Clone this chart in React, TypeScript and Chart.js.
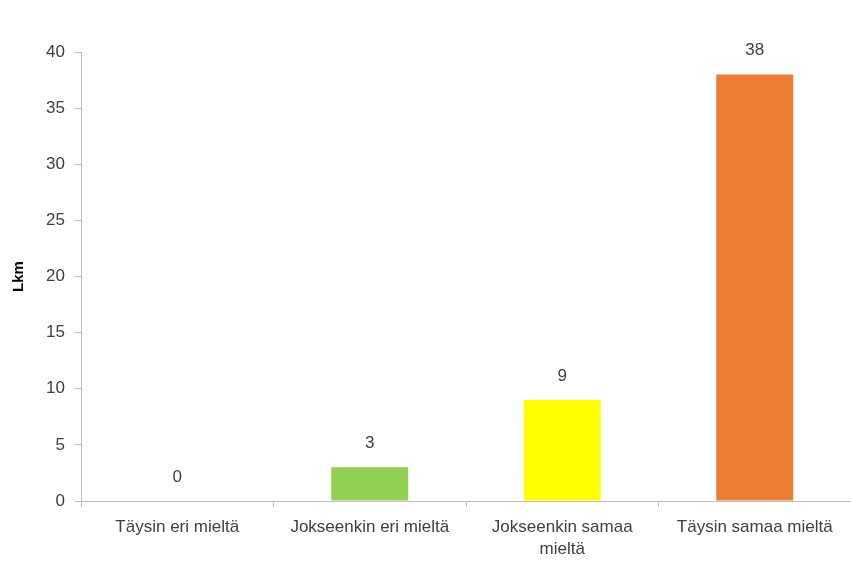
import React, { useEffect, useRef } from "react";
import { Chart, registerables } from "chart.js";

Chart.register(...registerables);

const categories: (string | string[])[] = [
  "Täysin eri mieltä",
  "Jokseenkin eri mieltä",
  ["Jokseenkin samaa", "mieltä"],
  "Täysin samaa mieltä",
];
const values = [0, 3, 9, 38];
const barColors = ["#a5a5a5", "#92d050", "#ffff00", "#ed7d31"];
const yTicks = [0, 5, 10, 15, 20, 25, 30, 35, 40];
const yTitle = "Lkm";

const FONT = "'Liberation Sans', Arial, sans-serif";

const valueLabels = {
  id: "valueLabels",
  afterDatasetsDraw(chart: any) {
    const ctx = chart.ctx;
    const meta = chart.getDatasetMeta(0);
    ctx.save();
    ctx.font = `17px ${FONT}`;
    ctx.fillStyle = "#404040";
    ctx.textAlign = "center";
    ctx.textBaseline = "middle";
    meta.data.forEach((bar: any, i: number) => {
      ctx.fillText(String(values[i]), bar.x, bar.y - 24);
    });
    ctx.restore();
  },
};

export default function App() {
  const ref = useRef<HTMLCanvasElement>(null);
  useEffect(() => {
    document.body.style.margin = "0";
    const chart = new Chart(ref.current!, {
      type: "bar",
      data: {
        labels: categories,
        datasets: [
          {
            data: values,
            backgroundColor: barColors,
            borderWidth: 0,
            barPercentage: 0.4,
            categoryPercentage: 1,
          },
        ],
      },
      options: {
        animation: false,
        responsive: false,
        layout: { padding: { top: 52, right: 0, left: 0, bottom: 0 } },
        plugins: { legend: { display: false }, tooltip: { enabled: false } },
        scales: {
          x: {
            offset: true,
            grid: {
              offset: true,
              drawOnChartArea: false,
              tickLength: 6,
              color: "#bfbfbf",
            },
            border: { color: "#bfbfbf", width: 1 },
            ticks: {
              color: "#404040",
              font: { family: FONT, size: 17, lineHeight: 1.25 },
              padding: 10,
              maxRotation: 0,
              autoSkip: false,
            },
            afterFit: (s: any) => {
              s.height = 63;
            },
          },
          y: {
            min: 0,
            max: 40,
            afterBuildTicks: (s: any) => {
              s.ticks = yTicks.map((v) => ({ value: v }));
            },
            grid: {
              drawOnChartArea: false,
              tickLength: 6,
              color: "#bfbfbf",
            },
            border: { color: "#bfbfbf", width: 1 },
            ticks: {
              color: "#404040",
              font: { family: FONT, size: 17 },
              padding: 10,
            },
            title: {
              display: true,
              text: yTitle,
              color: "#000000",
              font: { family: FONT, size: 15, weight: "bold" },
              padding: { top: 10, bottom: 0 },
            },
            afterFit: (s: any) => {
              s.width = 81;
            },
          },
        },
      },
      plugins: [valueLabels],
    });
    return () => chart.destroy();
  }, []);
  return <canvas ref={ref} width={851} height={564} style={{ display: "block" }} />;
}
